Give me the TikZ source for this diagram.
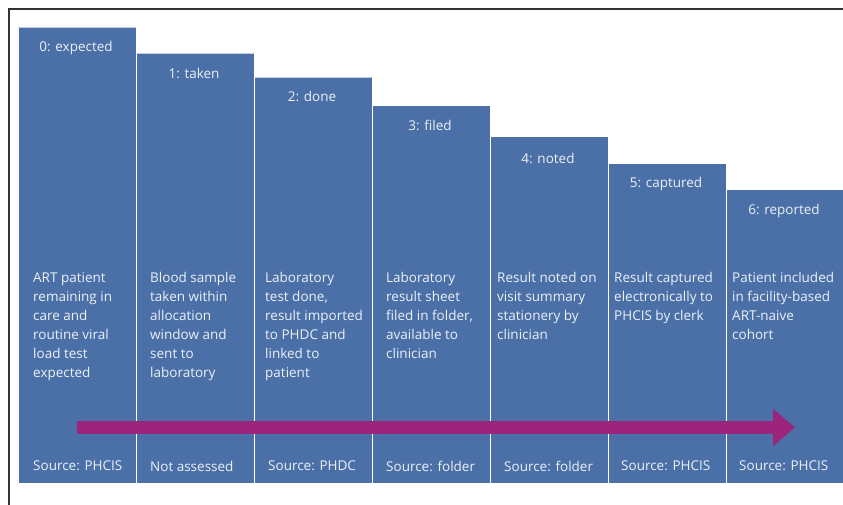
\documentclass[tikz,border=0pt]{standalone}
\usepackage{fontspec}
\setmainfont{Open Sans}
\usetikzlibrary{arrows.meta}
\definecolor{barblue}{RGB}{74,112,167}
\definecolor{barpurple}{RGB}{156,36,124}
\definecolor{barText}{RGB}{236,240,247}
\definecolor{barTop}{RGB}{190,205,228}
\begin{document}
\begin{tikzpicture}[x=1pt,y=-1pt,
	    bar/.style={fill=barblue,draw=white,line width=1pt},
	    title/.style={text=barText,font=\fontsize{13.5}{19}\selectfont},
	    desc/.style={text=barText,font=\fontsize{13.5}{19}\selectfont,align=left,anchor=north west,inner sep=0pt},
	    src/.style={text=barText,font=\fontsize{13.5}{19}\selectfont,anchor=west,inner sep=0pt}]
	    \useasboundingbox (0,0) rectangle (843,505);
	    % frame
	    \draw[line width=1.4pt,black!80] (843,9)--(9,9)--(9,505);
	    % bars
	    \draw[bar] (18,28) rectangle (136,483);
	    \draw[bar] (136,54) rectangle (254,483);
	    \draw[bar] (254,78) rectangle (372,483);
	    \draw[bar] (372,106) rectangle (490,483);
	    \draw[bar] (490,137) rectangle (608,483);
	    \draw[bar] (608,164) rectangle (726,483);
	    \draw[bar] (726,190) rectangle (844,483);
	    \draw[barTop,line width=1pt] (18,27.5)--(135.5,27.5);
	    \draw[barTop,line width=1pt] (136.5,53.5)--(253.5,53.5);
	    \draw[barTop,line width=1pt] (254.5,77.5)--(371.5,77.5);
	    % titles
	    \node[title] (t0) at (76,48) {0: expected};
	    \node[title] (t1) at (194,73) {1: taken};
	    \node[title] (t2) at (312,96) {2: done};
	    \node[title] (t3) at (430,125) {3: filed};
	    \node[title] (t4) at (548,158) {4: noted};
	    \node[title] (t5) at (666,184) {5: captured};
	    \node[title] (t6) at (784,211) {6: reported};
	    % descriptions
	    \node[desc] (d0) at (33,272) {ART patient\\remaining in\\care and\\routine viral\\load test\\expected};
	    \node[desc] (d1) at (150,272) {Blood sample\\taken within\\allocation\\window and\\sent to\\laboratory};
	    \node[desc] (d2) at (265,272) {Laboratory\\test done,\\result imported\\to PHDC and\\linked to\\patient};
	    \node[desc] (d3) at (386,272) {Laboratory\\result sheet\\filed in folder,\\available to\\clinician};
	    \node[desc] (d4) at (497,272) {Result noted on\\visit summary\\stationery by\\clinician};
	    \node[desc] (d5) at (614,272) {Result captured\\electronically to\\PHCIS by clerk};
	    \node[desc] (d6) at (732,272) {Patient included\\in facility-based\\ART-naive\\cohort};
	    % sources
	    \node[src] (s0) at (33,466) {Source: PHCIS};
	    \node[src] (s1) at (150,466) {Not assessed};
	    \node[src] (s2) at (268,466) {Source: PHDC};
	    \node[src] (s3) at (386,466) {Source: folder};
	    \node[src] (s4) at (504,466) {Source: folder};
	    \node[src] (s5) at (621,466) {Source: PHCIS};
	    \node[src] (s6) at (739,466) {Source: PHCIS};
	    % arrow
	    \coordinate (arrS) at (77,427.5);
	    \coordinate (arrE) at (795,427.5);
	    \draw[barpurple,line width=13pt,-{Triangle[length=22pt,width=36pt]}] (arrS)--(arrE);
	\end{tikzpicture}
\end{document}
